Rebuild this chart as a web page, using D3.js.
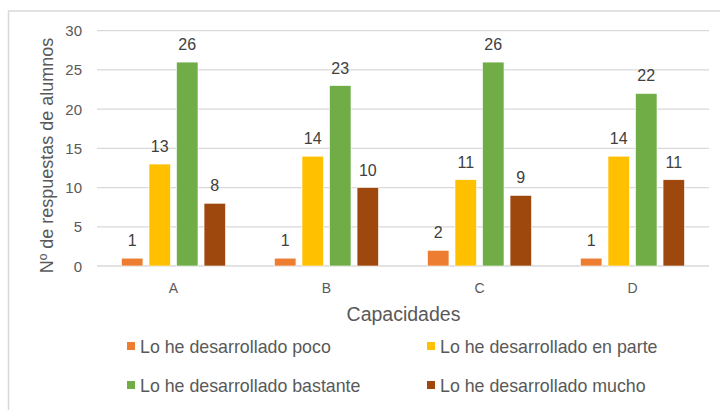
<!DOCTYPE html>
<html><head><meta charset="utf-8">
<script src="https://cdn.jsdelivr.net/npm/d3@7"></script>
<style>body{margin:0;background:#fff;}svg{display:block;font-family:"Liberation Sans",Arial,sans-serif;}</style>
</head><body><svg id="c" width="720" height="410"></svg>
<script>
const categories = ["A","B","C","D"];
const seriesNames = ["Lo he desarrollado poco","Lo he desarrollado en parte","Lo he desarrollado bastante","Lo he desarrollado mucho"];
const poco = [1,1,2,1];
const enParte = [13,14,11,14];
const bastante = [26,23,26,22];
const mucho = [8,10,9,11];
const colors = ["#ED7D31","#FFC000","#70AD47","#9E480E"];
const yTicks = [0,5,10,15,20,25,30];
const yTitle = "Nº de respuestas de alumnos";
const xTitle = "Capacidades";

(function(){
const seriesValues = [poco, enParte, bastante, mucho];
const svg = d3.select("#c");
const pLeft = 97, pRight = 709, pTop = 30.7, pBottom = 266;

svg.append("rect").attr("x",8.5).attr("y",11).attr("width",730).attr("height",420)
  .attr("fill","none").attr("stroke","#d9d9d9").attr("stroke-width",1.5);

const y = d3.scaleLinear().domain([0,30]).range([pBottom, pTop]);
const x0 = d3.scaleBand().domain(categories).range([pLeft,pRight]).padding(0);
const x1 = d3.scaleBand().domain(d3.range(4)).range([0,x0.bandwidth()]).paddingInner(0.22).paddingOuter(0.89);

svg.append("g").selectAll("line").data(yTicks).join("line")
  .attr("x1",pLeft).attr("x2",pRight).attr("y1",d=>y(d)).attr("y2",d=>y(d))
  .attr("stroke","#d9d9d9").attr("stroke-width",1.3);

svg.append("g").selectAll("text").data(yTicks).join("text")
  .attr("x",82).attr("y",d=>y(d)+5.5).attr("text-anchor","end")
  .attr("font-size",15).attr("fill","#595959").text(d=>d);

const g = svg.append("g");
categories.forEach((c,ci)=>{
  seriesValues.forEach((vals,si)=>{
    const v = vals[ci];
    const bx = x0(c)+x1(si);
    g.append("rect").attr("x",bx).attr("y",y(v)).attr("width",x1.bandwidth()).attr("height",y(0)-y(v))
      .attr("fill",colors[si]).attr("stroke","#fff").attr("stroke-width",0.6);
    g.append("text").attr("x",bx+x1.bandwidth()/2).attr("y",y(v)-12).attr("text-anchor","middle")
      .attr("font-size",16).attr("fill","#404040").text(v);
  });
});

svg.append("g").selectAll("text").data(categories).join("text")
  .attr("x",d=>x0(d)+x0.bandwidth()/2).attr("y",293).attr("text-anchor","middle")
  .attr("font-size",14).attr("fill","#595959").text(d=>d);

svg.append("text").attr("transform","translate(53,155.5) rotate(-90)").attr("text-anchor","middle")
  .attr("font-size",18).attr("fill","#595959").text(yTitle);

svg.append("text").attr("x",403.5).attr("y",321).attr("text-anchor","middle")
  .attr("font-size",19.5).attr("fill","#595959").text(xTitle);

const legPos = [[127,342],[427,342],[127,381],[427,381]];
const lg = svg.append("g").selectAll("g").data(seriesNames).join("g")
  .attr("transform",(d,i)=>`translate(${legPos[i][0]},${legPos[i][1]})`);
lg.append("rect").attr("width",8).attr("height",8).attr("fill",(d,i)=>colors[i]);
lg.append("text").attr("x",13).attr("y",10.5).attr("font-size",17.8).attr("fill","#595959").text(d=>d);
})();
</script></body></html>
